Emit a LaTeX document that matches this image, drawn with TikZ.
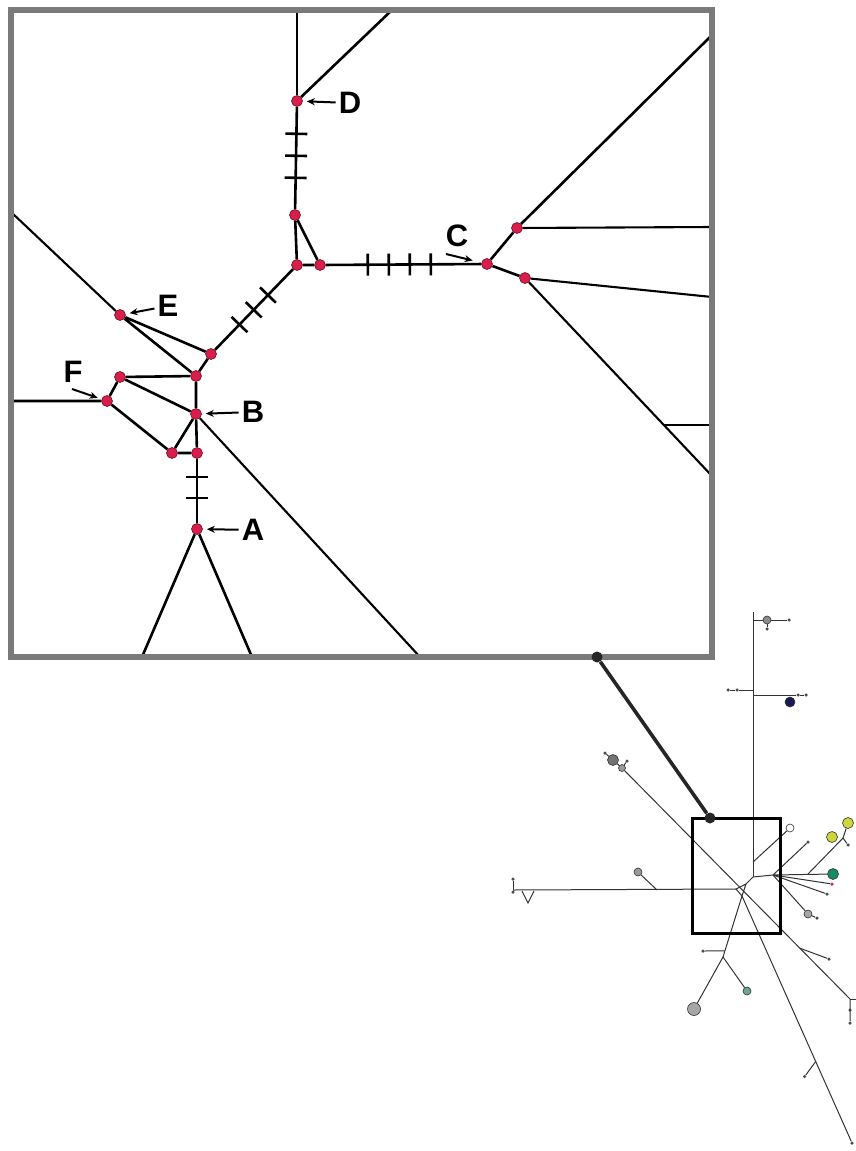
\documentclass[tikz,border=0pt]{standalone}
\usepackage{fontspec}
\setmainfont{Liberation Sans}
\usetikzlibrary{arrows.meta,calc,decorations.markings}
\definecolor{hapred}{RGB}{216,30,74}
\definecolor{framegray}{RGB}{122,122,122}
\definecolor{hapnavy}{RGB}{25,25,85}
\definecolor{haplime}{RGB}{205,215,60}
\definecolor{hapgreen}{RGB}{20,140,100}
\definecolor{hapsage}{RGB}{110,165,140}

\begin{document}
\begin{tikzpicture}[x=1pt,y=-1pt,
      hap/.style={circle,draw=hapred!50!black,fill=hapred,line width=0.6pt,
                  minimum size=11pt,inner sep=0pt},
      link/.style={line width=2.6pt},
      thin link/.style={line width=2.1pt},
      lbl/.style={font=\bfseries\fontsize{31}{31}\selectfont,inner sep=3pt},
      ptr/.style={line width=2pt,-{Stealth[length=8pt,width=7pt]},shorten >=4pt},
      ticks/.style n args={3}{postaction={decorate},decoration={markings,
                  mark=between positions #1 and #2 step #3 with
                  {\draw[line width=2.6pt] (0,-11pt) -- (0,11pt);}}},
      net/.style={line width=1pt,black!80},
      sdot/.style={circle,fill=black!70,minimum size=3.5pt,inner sep=0pt},
      hcirc/.style={circle,draw=black!80,line width=0.6pt,minimum size=#1,inner sep=0pt}]
    \useasboundingbox (0,0) rectangle (856,1151);

    % enlarged view
    \node[hap] (D)  at (297,101) {};
    \node[hap] (n1) at (295,215) {};
    \node[hap] (n2) at (297,265) {};
    \node[hap] (n3) at (320,265) {};
    \node[hap] (C)  at (487,264) {};
    \node[hap] (c1) at (517,228) {};
    \node[hap] (c2) at (525,278) {};
    \node[hap] (P)  at (211,354) {};
    \node[hap] (E)  at (120,315) {};
    \node[hap] (Q)  at (196,376) {};
    \node[hap] (G)  at (120,377) {};
    \node[hap] (F)  at (107,401) {};
    \node[hap] (B)  at (196,414) {};
    \node[hap] (H)  at (172,453) {};
    \node[hap] (I)  at (197,453) {};
    \node[hap] (A)  at (197,529) {};

    \coordinate (fD)   at (297,10);
    \coordinate (fDr)  at (392,10);
    \coordinate (fc1)  at (712,35);
    \coordinate (fc1h) at (712,227);
    \coordinate (fc2h) at (712,297);
    \coordinate (fc2)  at (712,476);
    \coordinate (c3)   at ($(c2)!0.743!(fc2)$);
    \coordinate (fE)   at (11,212);
    \coordinate (fF)   at (11,401);
    \coordinate (fA1)  at (142,657);
    \coordinate (fA2)  at (252,657);
    \coordinate (fB)   at (420,657);

    \draw[thin link] (fD) -- (D);
    \draw[link] (D) -- (fDr);
    \draw[link,ticks={27pt}{72pt}{22pt}] (D) -- (n1);
    \draw[link] (n1) -- (n2) -- (n3) -- (n1);
    \draw[link,ticks={42pt}{106pt}{21pt}] (n3) -- (C);
    \draw[link] (C) -- (c1) -- (fc1);
    \draw[thin link] (c1) -- (fc1h);
    \draw[link] (C) -- (c2);
    \draw[thin link] (c2) -- (fc2h);
    \draw[thin link] (c2) -- (fc2);
    \draw[thin link] (c3) -- (c3 -| fc2);
    \draw[link,ticks={36pt}{78pt}{20.5pt}] (n2) -- (P);
    \draw[link] (P) -- (E) -- (Q) -- (P);
    \draw[thin link] (fE) -- (E);
    \draw[link] (Q) -- (G) -- (F) -- (fF);
    \draw[link] (G) -- (B);
    \draw[link] (F) -- (H) -- (I);
    \draw[link] (H) -- (B);
    \draw[link] (Q) -- (B) -- (I);
    \draw[link,ticks={18pt}{40pt}{21pt}] (I) -- (A);
    \draw[link] (fA1) -- (A) -- (fA2);
    \draw[thin link] (B) -- (fB);

    % labels
    \node[lbl] (labD) at (350,103) {D};
    \node[lbl] (labC) at (457,236) {C};
    \node[lbl] (labE) at (168,306) {E};
    \node[lbl] (labF) at (73,372) {F};
    \node[lbl] (labB) at (253,412) {B};
    \node[lbl] (labA) at (253,530) {A};
    \coordinate (tailC) at (446,254);
    \coordinate (tailF) at (72,389);
    \draw[ptr] (labD) -- (D);
    \draw[ptr,shorten >=9pt] (tailC) -- (C);
    \draw[ptr] (labE) -- (E);
    \draw[ptr] (tailF) -- (F);
    \draw[ptr] (labB) -- (B);
    \draw[ptr] (labA) -- (A);

    \node[draw=framegray,line width=5.5pt,minimum width=701pt,minimum height=647pt,
          inner sep=0pt] (inset) at (361.5,333.5) {};

    % overview network
    \coordinate (v0) at (753,612);
    \coordinate (v1) at (753,620);
    \coordinate (v2) at (753,690);
    \coordinate (v3) at (753,695);
    \coordinate (v4) at (753,862);
    \coordinate (v5) at (753,877);
    \node[hcirc=8pt,fill=black!45] (t1c) at (767,620) {};
    \node[sdot] (t1e) at (789,620) {};
    \node[sdot] (t1s) at (767,629) {};
    \node[sdot] (t2a) at (737,690) {};
    \node[sdot] (t2b) at (728,690) {};
    \node[sdot] (t3a) at (798,695) {};
    \node[sdot] (t3b) at (806,695) {};
    \node[hcirc=10pt,fill=hapnavy] (t3c) at (790,702) {};
    \node[hcirc=8pt,fill=white] (w1) at (790,828) {};
    \coordinate (r0) at (773,875);
    \coordinate (k1) at (736,889);
    \coordinate (k2) at (746,884);
    \coordinate (k3) at (742,896);
    \coordinate (lf) at (513,890);
    \coordinate (lb) at (657,890);
    \node[hcirc=8pt,fill=black!40] (gl) at (638,872) {};
    \node[sdot] (lw1) at (513,879) {};
    \node[sdot] (lw2) at (513,892) {};
    \coordinate (lv1) at (522,891);
    \coordinate (lv2) at (528,903);
    \coordinate (lv3) at (534,891);
    \node[sdot] (dd0) at (605,753) {};
    \node[hcirc=11pt,fill=black!55] (dd1) at (613,760) {};
    \node[hcirc=7pt,fill=black!40] (dd2) at (622,768) {};
    \node[sdot] (dd3) at (627,761) {};
    \coordinate (dd4) at (850,999);
    \node[sdot] (dd5) at (850,1010) {};
    \node[sdot] (dd6) at (850,1023) {};
    \coordinate (dd7) at (856,999);
    \coordinate (db) at ($(dd2)!0.78!(dd4)$);
    \node[sdot] (dbe) at (829,959) {};
    \coordinate (j2) at (723,957);
    \coordinate (j2s) at ($(k3)!0.9!(j2)$);
    \node[sdot] (j2e) at (703,951) {};
    \node[hcirc=13pt,fill=black!35] (bg) at (694,1009) {};
    \node[hcirc=8pt,fill=hapsage] (sg) at (747,991) {};
    \node[sdot] (tail) at (852,1143) {};
    \coordinate (lx) at ($(k3)!0.67!(tail)$);
    \node[sdot] (lxe) at ($(lx)+(-11,15)$) {};
    \node[hcirc=11pt,fill=hapgreen] (g1) at (833,874) {};
    \coordinate (b1) at (808,874);
    \coordinate (yb) at (843,838);
    \node[hcirc=11pt,fill=haplime] (y1) at (832,837) {};
    \node[hcirc=11pt,fill=haplime] (y2) at (848,823) {};
    \node[sdot] (yd) at (848,845) {};
    \node[sdot,fill=hapred] (rr) at (832,884) {};
    \node[sdot] (rd) at (827,894) {};
    \node[hcirc=8pt,fill=black!35] (gr) at (808,914) {};
    \node[sdot] (gre) at (817,918) {};
    \node[sdot] (rt) at (808,842) {};

    \draw[net] (v0) -- (v5);
    \draw[net] (v1) -- (t1c) -- (t1e);
    \draw[net] (t1c) -- (t1s);
    \draw[net] (v2) -- (t2a) -- (t2b);
    \draw[net] (v3) -- (t3a) -- (t3b);
    \draw[net] (v4) -- (w1);
    \draw[net] (v5) -- (r0);
    \draw[net] (k1) -- (k2) -- (k3) -- cycle;
    \draw[net] (k2) -- (v5);
    \draw[net] (lf) -- (k1);
    \draw[net] (lb) -- (gl);
    \draw[net] (lw1) -- (lw2);
    \draw[net] (lv1) -- (lv2) -- (lv3);
    \draw[net] (dd0) -- (dd1) -- (dd2) -- (dd3);
    \draw[net] (dd2) -- (dd4) -- (dd6);
    \draw[net] (dd4) -- (dd7);
    \draw[net] (db) -- (dbe);
    \draw[net] (k3) -- (j2) -- (bg);
    \draw[net] (j2) -- (sg);
    \draw[net] (j2s) -- (j2e);
    \draw[net] (k3) -- (tail);
    \draw[net] (lx) -- (lxe);
    \draw[net] (r0) -- (g1);
    \draw[net] (b1) -- (yb) -- (y2);
    \draw[net] (yb) -- (yd);
    \draw[net] (r0) -- (rr);
    \draw[net] (r0) -- (rd);
    \draw[net] (r0) -- (gr) -- (gre);
    \draw[net] (r0) -- (rt);

    % zoom window and its link to the enlarged view
    \node[draw,line width=3pt,minimum width=88pt,minimum height=115pt,
          inner sep=0pt] (zoombox) at (736,875.5) {};
    \node[circle,fill=black!85,minimum size=11pt,inner sep=0pt] (p1) at (597,657) {};
    \node[circle,fill=black!85,minimum size=11pt,inner sep=0pt] (p2) at (710,818) {};
    \draw[line width=3.6pt,black!85] (p1) -- (p2);
\end{tikzpicture}
\end{document}
